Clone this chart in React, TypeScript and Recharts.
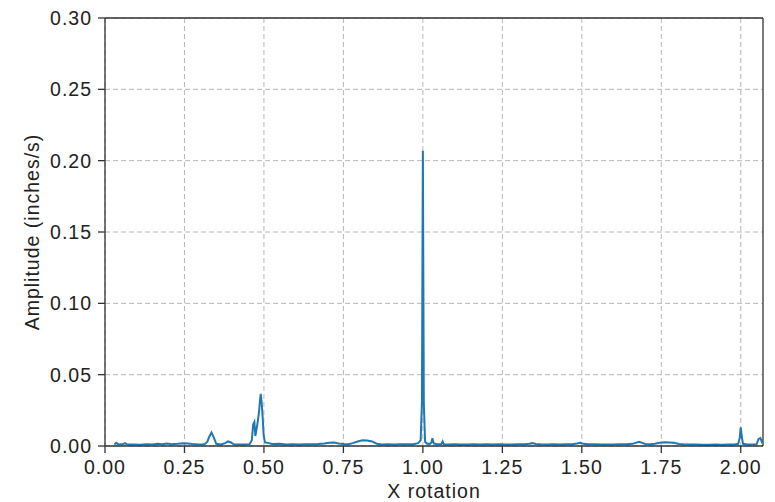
import React from 'react';
import { LineChart, Line, XAxis, YAxis, CartesianGrid, ReferenceLine } from 'recharts';

const rotation: number[] = [
  0.030, 0.035, 0.042, 0.050, 0.056, 0.063, 0.070, 0.090, 0.110, 0.130, 0.150, 0.165, 0.180, 0.195,
  0.210, 0.230, 0.245, 0.260, 0.275, 0.290, 0.305, 0.315, 0.322, 0.328, 0.335, 0.342, 0.350, 0.365,
  0.378, 0.387, 0.396, 0.405, 0.420, 0.440, 0.455, 0.462, 0.466, 0.470, 0.473, 0.477, 0.481, 0.485,
  0.488, 0.490, 0.493, 0.496, 0.499, 0.503, 0.513, 0.525, 0.550, 0.570, 0.590, 0.610, 0.630, 0.650,
  0.670, 0.690, 0.705, 0.720, 0.735, 0.750, 0.765, 0.780, 0.795, 0.810, 0.825, 0.840, 0.855, 0.870,
  0.890, 0.910, 0.930, 0.950, 0.970, 0.985, 0.993, 0.997, 1.000, 1.003, 1.007, 1.013, 1.022, 1.027,
  1.030, 1.034, 1.045, 1.058, 1.062, 1.066, 1.080, 1.100, 1.120, 1.140, 1.160, 1.180, 1.200, 1.220,
  1.240, 1.260, 1.280, 1.300, 1.320, 1.335, 1.345, 1.355, 1.370, 1.390, 1.410, 1.430, 1.450, 1.470,
  1.485, 1.495, 1.505, 1.520, 1.540, 1.560, 1.580, 1.600, 1.620, 1.640, 1.660, 1.672, 1.680, 1.690,
  1.700, 1.715, 1.730, 1.745, 1.760, 1.775, 1.790, 1.805, 1.820, 1.840, 1.860, 1.880, 1.900, 1.920,
  1.940, 1.960, 1.980, 1.992, 1.997, 2.000, 2.003, 2.007, 2.020, 2.035, 2.050, 2.056, 2.062, 2.066,
  2.070,
];

const amplitude: number[] = [
  0.0010, 0.0022, 0.0011, 0.0013, 0.0012, 0.0020, 0.0010, 0.0011, 0.0009, 0.0012, 0.0010, 0.0016, 0.0013, 0.0017,
  0.0013, 0.0015, 0.0019, 0.0017, 0.0014, 0.0012, 0.0011, 0.0015, 0.0030, 0.0065, 0.0095, 0.0060, 0.0015, 0.0011,
  0.0020, 0.0032, 0.0025, 0.0012, 0.0011, 0.0010, 0.0013, 0.0040, 0.0150, 0.0168, 0.0070, 0.0120, 0.0180, 0.0250,
  0.0330, 0.0365, 0.0300, 0.0200, 0.0080, 0.0025, 0.0022, 0.0014, 0.0016, 0.0011, 0.0012, 0.0011, 0.0013, 0.0012,
  0.0014, 0.0018, 0.0022, 0.0024, 0.0018, 0.0014, 0.0013, 0.0020, 0.0032, 0.0040, 0.0038, 0.0032, 0.0016, 0.0011,
  0.0012, 0.0011, 0.0013, 0.0012, 0.0013, 0.0020, 0.0040, 0.0300, 0.2070, 0.0300, 0.0030, 0.0016, 0.0015, 0.0025,
  0.0055, 0.0018, 0.0013, 0.0012, 0.0032, 0.0012, 0.0010, 0.0012, 0.0011, 0.0010, 0.0012, 0.0011, 0.0013, 0.0011,
  0.0012, 0.0011, 0.0010, 0.0012, 0.0013, 0.0016, 0.0020, 0.0014, 0.0012, 0.0011, 0.0013, 0.0011, 0.0012, 0.0013,
  0.0018, 0.0022, 0.0015, 0.0013, 0.0012, 0.0011, 0.0010, 0.0011, 0.0012, 0.0013, 0.0015, 0.0024, 0.0030, 0.0022,
  0.0014, 0.0013, 0.0016, 0.0022, 0.0026, 0.0024, 0.0022, 0.0014, 0.0012, 0.0011, 0.0010, 0.0009, 0.0009, 0.0010,
  0.0009, 0.0010, 0.0011, 0.0015, 0.0060, 0.0130, 0.0070, 0.0015, 0.0011, 0.0010, 0.0013, 0.0050, 0.0056, 0.0030,
  0.0045,
];

const xTicks: number[] = [0, 0.25, 0.5, 0.75, 1.0, 1.25, 1.5, 1.75, 2.0];
const yTicks: number[] = [0, 0.05, 0.1, 0.15, 0.2, 0.25, 0.3];

const data = rotation.map((x, i) => ({ x, y: amplitude[i] }));

const font = { fontFamily: '"Liberation Sans", Arial, sans-serif', fontSize: 19.5, fill: '#222', letterSpacing: 1 };
const axisColor = '#333';

export default function App() {
  return (
    <div style={{ position: 'absolute', left: 0, top: 0, width: 775, height: 502, background: '#fff' }}>
      <LineChart width={775} height={502} data={data} margin={{ top: 18, right: 12, left: 0, bottom: 0 }}>
        <CartesianGrid stroke="#b8b8b8" strokeDasharray="5 3" strokeWidth={1} verticalValues={xTicks} horizontalValues={yTicks} />
        <XAxis
          dataKey="x"
          type="number"
          domain={[0, 2.07]}
          allowDataOverflow
          ticks={xTicks}
          interval={0}
          tickFormatter={(v: number) => v.toFixed(2)}
          height={56}
          tickSize={7}
          tickMargin={7}
          stroke={axisColor}
          strokeWidth={1.3}
          tick={font}
          label={{ value: 'X rotation', position: 'insideBottom', offset: 4, style: { ...font } }}
        />
        <YAxis
          type="number"
          domain={[0, 0.3]}
          allowDataOverflow
          ticks={yTicks}
          interval={0}
          tickFormatter={(v: number) => v.toFixed(2)}
          width={105}
          tickSize={7}
          tickMargin={6}
          stroke={axisColor}
          strokeWidth={1.3}
          tick={font}
          label={{ value: 'Amplitude (inches/s)', angle: -90, position: 'insideLeft', offset: 32, style: { ...font, textAnchor: 'middle' } }}
        />
        <ReferenceLine y={0.3} stroke={axisColor} strokeWidth={1.3} />
        <ReferenceLine x={2.07} stroke={axisColor} strokeWidth={1.3} />
        <Line
          type="linear"
          dataKey="y"
          stroke="#1f77b4"
          strokeWidth={2}
          dot={false}
          isAnimationActive={false}
        />
      </LineChart>
    </div>
  );
}
